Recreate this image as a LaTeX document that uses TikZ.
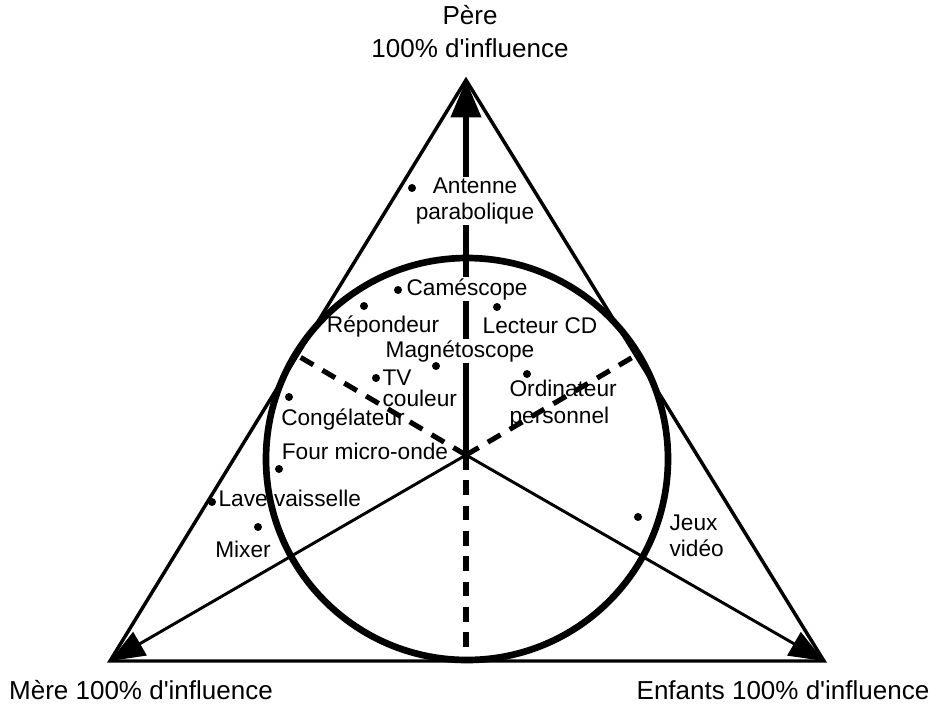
\documentclass[tikz,border=0pt]{standalone}
\usepackage{fontspec}
\setmainfont{Liberation Sans}[Ligatures=TeXOff]
\usetikzlibrary{arrows.meta}
\begin{document}
\begin{tikzpicture}[x=0.75pt,y=-0.75pt,
  side/.style={line width=2.6pt, line join=miter},
  spoke/.style={line width=2.2pt, -{Triangle[length=26pt,width=20pt]}},
  mainspoke/.style={line width=4.5pt, -{Triangle[length=28pt,width=22pt]}},
  guide/.style={line width=3.8pt, dash pattern=on 11pt off 8pt},
  ring/.style={line width=5pt},
  dot/.style={circle, fill=black, inner sep=0pt, minimum size=6pt},
  lbl/.style={font=\fontsize{17}{19}\selectfont, inner sep=1pt},
  corner/.style={font=\fontsize{19.5}{24.75}\selectfont, align=center, inner sep=0pt},
]
\useasboundingbox (0,0) rectangle (939,704);

% vertices, centre and tangent points
\coordinate (A) at (466,80);
\coordinate (B) at (110,661);
\coordinate (C) at (824,661);
\coordinate (O) at (466,455);
\coordinate (K) at (467,459);
\coordinate (TL) at (300,357);
\coordinate (TR) at (633,357);
\coordinate (TB) at (466,660);

% spokes from the centre
\draw[spoke] (O) -- (B);
\draw[spoke] (O) -- (C);
\draw[mainspoke] (O) -- (A);
\draw[guide] (O) -- (TL);
\draw[guide] (O) -- (TR);
\draw[guide] (O) -- (TB);

% labels sitting on the vertical spoke break it
\node[lbl, fill=white, align=center] (antenne) at (475,201) {Antenne\\parabolique};
\node[lbl, fill=white, anchor=west] (camescope) at (405,289) {Caméscope};
\node[lbl, fill=white] (magneto) at (460,351) {Magnétoscope};

% triangle and circle
\draw[side] (A) -- (B) -- (C) -- cycle;
\draw[ring] (K) circle[radius=201];

% corner labels
\node[corner] (pere) at (470,32) {Père\\100\% d'influence};
\node[corner] (mere) at (141,690) {Mère 100\% d'influence};
\node[corner] (enfants) at (783,690) {Enfants 100\% d'influence};

% products
\node[dot] (dantenne) at (412,188) {};
\node[dot] (dcamescope) at (398,290) {};

\node[lbl] (repondeur) at (383,326) {Répondeur};
\node[dot] (drepondeur) at (364,306) {};

\node[lbl] (lecteur) at (540,326) {Lecteur CD};
\node[dot] (dlecteur) at (497,307) {};

\node[dot] (dmagneto) at (436,366) {};

\node[lbl, anchor=west, align=left, font=\fontsize{17}{15.5}\selectfont] (tv) at (381,388) {TV\\couleur};
\node[dot] (dtv) at (376,378) {};

\node[lbl, anchor=west, align=left, font=\fontsize{17}{20}\selectfont] (ordi) at (508,404) {Ordinateur\\personnel};
\node[dot] (dordi) at (527,374) {};

\node[lbl] (congel) at (343,419) {Congélateur};
\node[dot] (dcongel) at (289,397) {};

\node[lbl] (four) at (365,451) {Four micro-onde};
\node[dot] (dfour) at (279,469) {};

\node[lbl, anchor=west] (lave) at (217,498) {Lave vaisselle};
\node[dot] (dlave) at (212,502) {};

\node[lbl] (mixer) at (243,549) {Mixer};
\node[dot] (dmixer) at (258,527) {};

\node[lbl, anchor=west, align=left, font=\fontsize{17}{19.5}\selectfont] (jeux) at (668,536) {Jeux\\vidéo};
\node[dot] (djeux) at (638,517) {};
\end{tikzpicture}
\end{document}
